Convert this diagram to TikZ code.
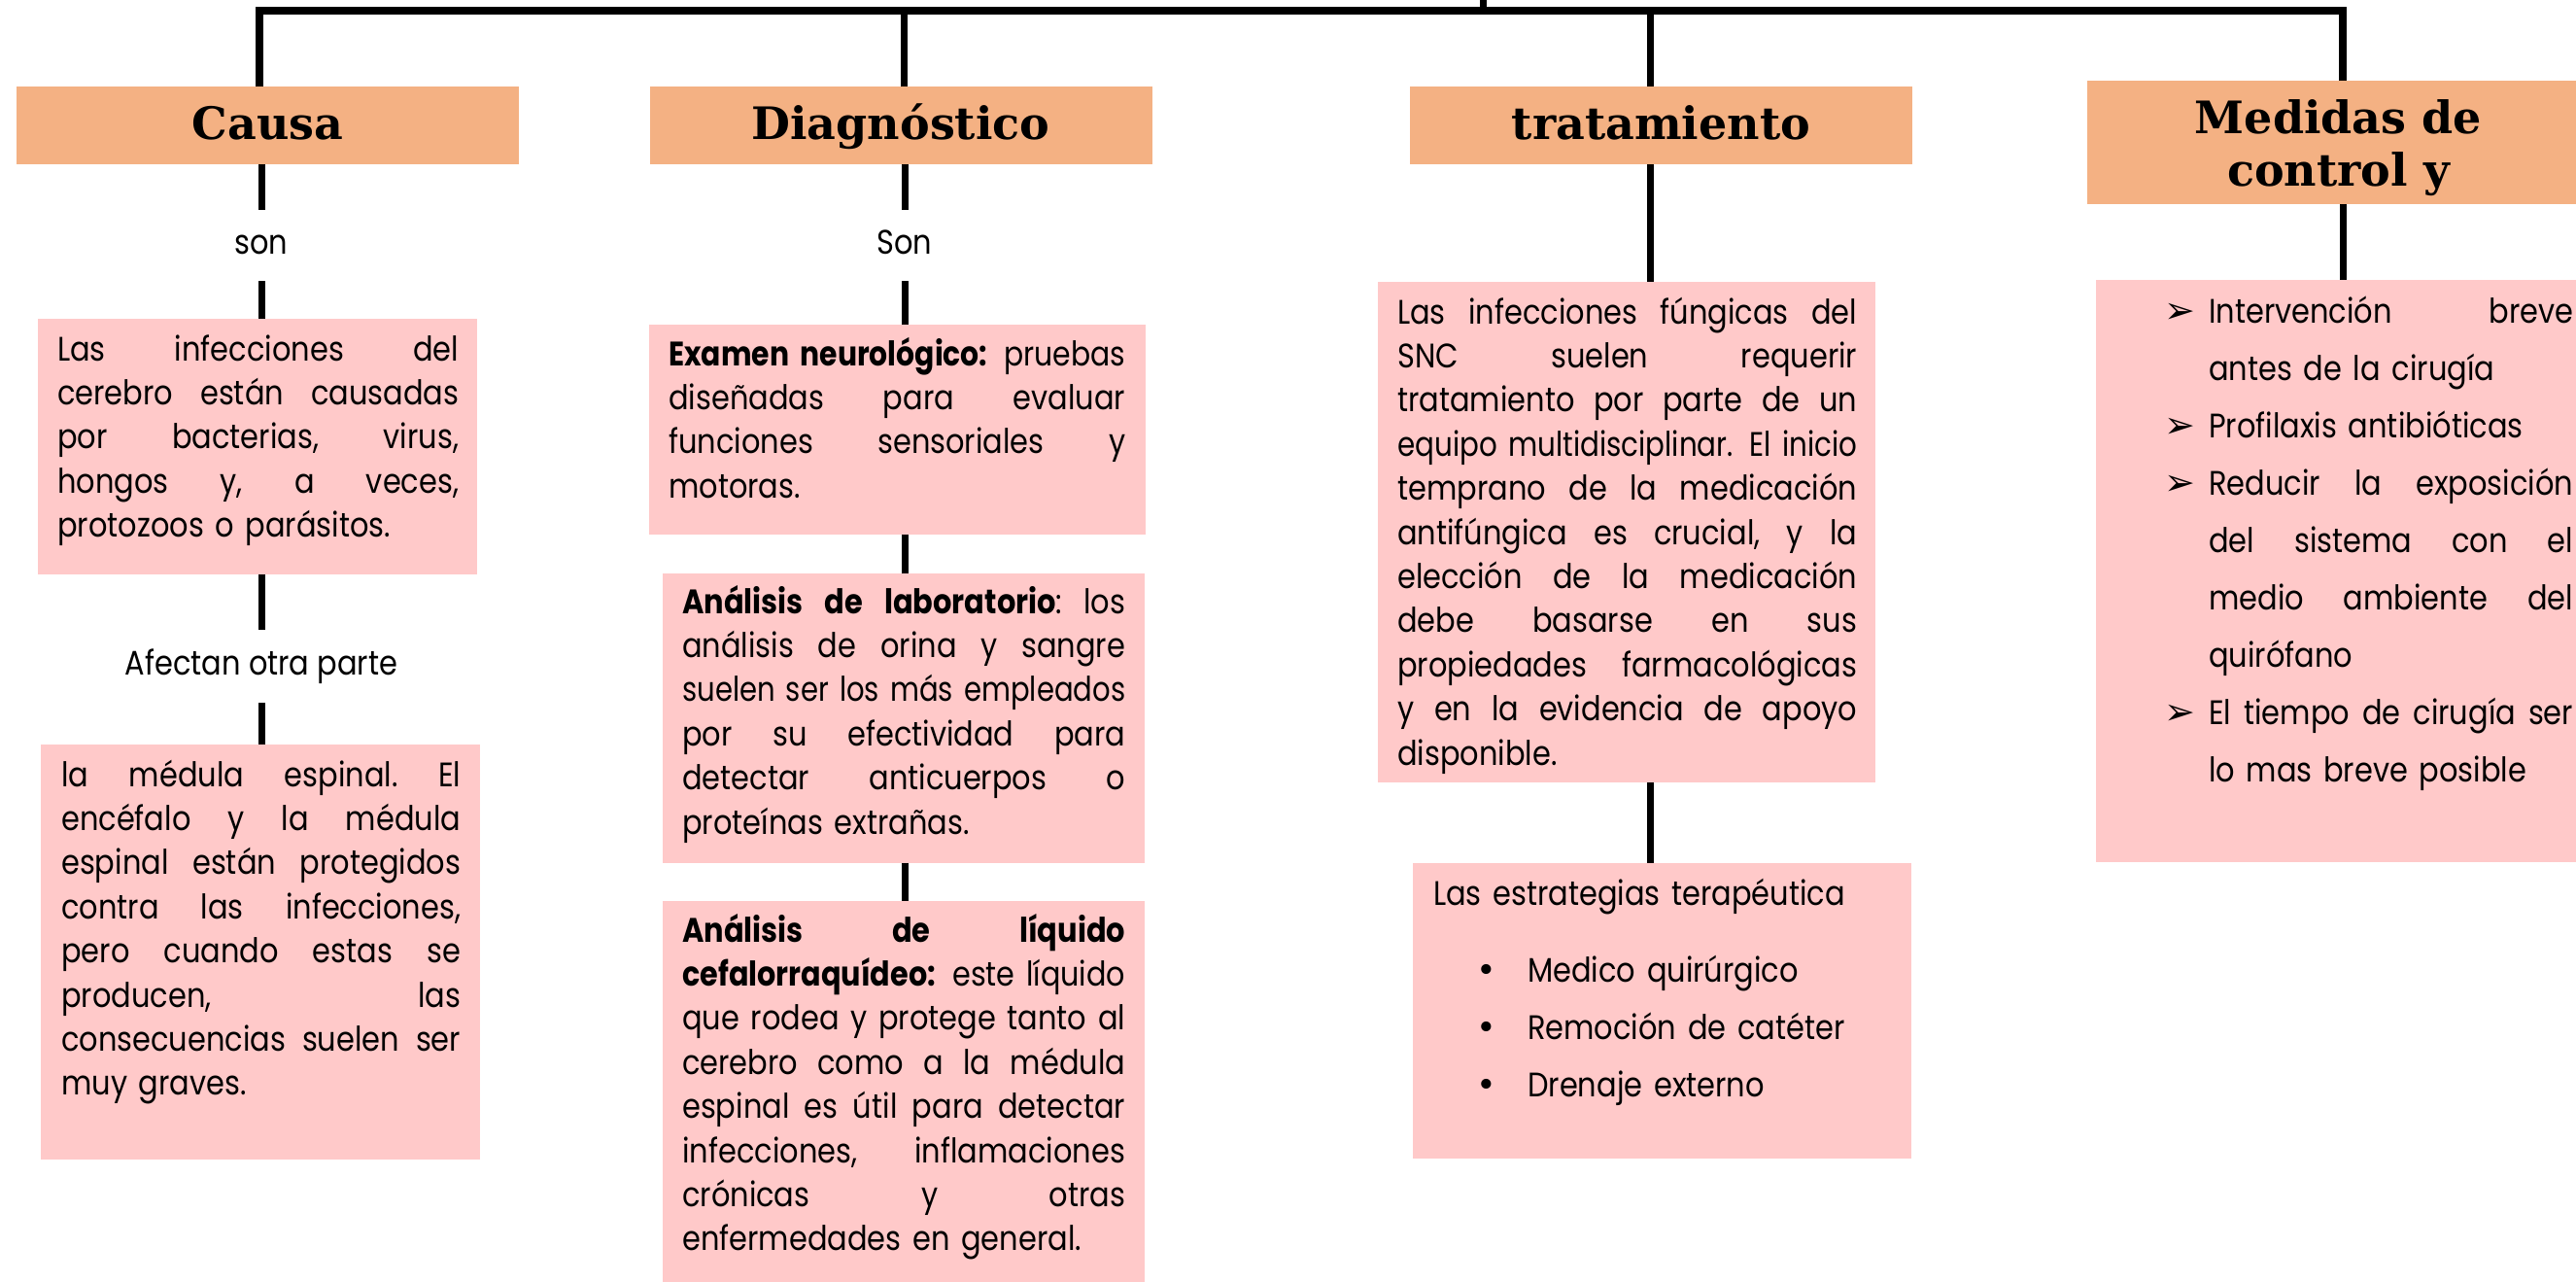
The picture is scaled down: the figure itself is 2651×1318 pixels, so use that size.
\documentclass[tikz,border=0pt]{standalone}
\usepackage{fontspec}
\usepackage{graphicx}
\setmainfont{Poppins}[FakeStretch=0.87]
\newfontfamily\headfont{DejaVu Serif}
\newfontfamily\dvs{DejaVu Sans}
\definecolor{heador}{HTML}{F4B183}
\definecolor{boxpink}{HTML}{FFC9C9}
\newsavebox\jlbox
\newcommand\jl[1]{\sbox\jlbox{#1}\ifdim\wd\jlbox>\linewidth\resizebox{\linewidth}{\height}{#1}\else\makebox[\linewidth][s]{\frenchspacing\spaceskip=0.25em plus 1fil\relax\xspaceskip=\spaceskip #1}\fi\par}
\newcommand\bodyfont{\fontsize{35}{45.4}\selectfont\parskip=0pt\hyphenpenalty=10000\exhyphenpenalty=10000}
\newcommand\listfont{\fontsize{35}{59}\selectfont\parskip=0pt\hyphenpenalty=10000\exhyphenpenalty=10000}
\newcommand\arr{\leavevmode\llap{\makebox[46pt][l]{\dvs\fontsize{38}{38}\selectfont ➢}}}
\newcommand\dotb{\leavevmode\hspace*{97pt}\llap{\makebox[84pt][c]{\dvs •}}}
\tikzset{
  headbox/.style={fill=heador, draw=none, minimum width=517pt, minimum height=80pt, inner sep=0pt,
    font=\headfont\bfseries\fontsize{46}{54}\selectfont, text height=34pt, text depth=6pt},
  pinkbox/.style={fill=boxpink, draw=none, inner sep=0pt, anchor=north west},
  txt/.style={anchor=base west, inner sep=0pt, font=\bodyfont},
  lbl/.style={inner sep=0pt, minimum width=10pt, font=\bodyfont, text height=17pt, text depth=0pt},
  conn/.style={line width=7pt, black},
  barline/.style={line width=8pt, black, line join=miter}
}
\begin{document}
\begin{tikzpicture}[x=1pt,y=-1pt]
\useasboundingbox (0,0) rectangle (2651,1318);
\clip (0,0) rectangle (2651,1318);

% headers
\node[headbox] (causa) at (275.5,129) {Causa};
\node[headbox] (diag) at (927,129) {Diagnóstico};
\node[headbox] (trat) at (1709.5,129) {tratamiento};
\node[headbox, minimum height=127pt, align=center, text height=95pt, text depth=6pt] (med) at (2406.5,146.5) {Medidas de\\control y};

% pink boxes
\node[pinkbox, minimum width=452pt, minimum height=263pt] (c1) at (39,328) {};
\node[pinkbox, minimum width=452pt, minimum height=427pt] (c2) at (42,766) {};
\node[pinkbox, minimum width=511pt, minimum height=216pt] (d1) at (668,334) {};
\node[pinkbox, minimum width=496pt, minimum height=298pt] (d2) at (682,590) {};
\node[pinkbox, minimum width=496pt, minimum height=403pt] (d3) at (682,927) {};
\node[pinkbox, minimum width=512pt, minimum height=515pt] (t1) at (1418,290) {};
\node[pinkbox, minimum width=513pt, minimum height=304pt] (t2) at (1454,888) {};
\node[pinkbox, minimum width=513pt, minimum height=599pt] (m) at (2157,288) {};

% labels
\node[lbl, minimum height=73pt] (son) at (269,252.5) {son};
\node[lbl, minimum height=73pt] (Son) at (931,252.5) {Son};
\node[lbl, minimum height=75pt] (afect) at (269,685.5) {Afectan otra parte};

% texts
\node[txt, text width=413pt] (c1t) at (59,371) {\jl{Las infecciones del}\jl{cerebro están causadas}\jl{por bacterias, virus,}\jl{hongos y, a veces,}protozoos o parásitos.};
\node[txt, text width=411pt] (c2t) at (63,809) {\jl{la médula espinal. El}\jl{encéfalo y la médula}\jl{espinal están protegidos}\jl{contra las infecciones,}\jl{pero cuando estas se}\jl{producen, las}\jl{consecuencias suelen ser}muy graves.};
\node[txt, text width=470pt] (d1t) at (688,376) {\jl{\textbf{Examen neurológico:} pruebas}\jl{diseñadas para evaluar}\jl{funciones sensoriales y}motoras.};
\node[txt, text width=456pt] (d2t) at (702,631) {\jl{\textbf{Análisis de laboratorio}: los}\jl{análisis de orina y sangre}\jl{suelen ser los más empleados}\jl{por su efectividad para}\jl{detectar anticuerpos o}proteínas extrañas.};
\node[txt, text width=456pt] (d3t) at (702,969) {\jl{\textbf{Análisis de líquido}}\jl{\textbf{cefalorraquídeo:} este líquido}\jl{que rodea y protege tanto al}\jl{cerebro como a la médula}\jl{espinal es útil para detectar}\jl{infecciones, inflamaciones}\jl{crónicas y otras}enfermedades en general.};
\node[txt, text width=473pt] (t1t) at (1438,333) {\jl{Las infecciones fúngicas del}\jl{SNC suelen requerir}\jl{tratamiento por parte de un}\jl{equipo multidisciplinar. El inicio}\jl{temprano de la medicación}\jl{antifúngica es crucial, y la}\jl{elección de la medicación}\jl{debe basarse en sus}\jl{propiedades farmacológicas}\jl{y en la evidencia de apoyo}disponible.};
\node[txt, text width=490pt, font=\listfont] (t2t) at (1475,931) {Las estrategias terapéutica\par\vskip20pt
\dotb Medico quirúrgico\par
\dotb Remoción de catéter\par
\dotb Drenaje externo};
\node[txt, text width=375pt, font=\listfont] (mt) at (2273,332) {\arr\jl{Intervención breve}antes de la cirugía\par
\arr Profilaxis antibióticas\par
\arr\jl{Reducir la exposición}\jl{del sistema con el}\jl{medio ambiente del}quirófano\par
\arr\jl{El tiempo de cirugía ser}lo mas breve posible};

% top bar
\coordinate (bC) at (267,11);
\coordinate (bD) at (930,11);
\coordinate (bT) at (1698,11);
\coordinate (bM) at (2411,11);
\coordinate (bTop) at (1526,11);
\coordinate (top) at (1526,0);
\draw[barline] (bC |- causa.north) -- (bC) -- (bM) -- (bM |- med.north);
\draw[conn] (bD) -- (bD |- diag.north);
\draw[conn] (bT) -- (bT |- trat.north);
\draw[conn] (top) -- (bTop);

% lower connectors
\draw[conn] (son.north |- causa.south) -- (son.north);
\draw[conn] (son.south) -- (son.south |- c1.north);
\draw[conn] (afect.north |- c1.south) -- (afect.north);
\draw[conn] (afect.south) -- (afect.south |- c2.north);
\draw[conn] (Son.north |- diag.south) -- (Son.north);
\draw[conn] (Son.south) -- (Son.south |- d1.north);
\draw[conn] (Son.south |- d1.south) -- (Son.south |- d2.north);
\draw[conn] (Son.south |- d2.south) -- (Son.south |- d3.north);
\draw[conn] (bT |- trat.south) -- (bT |- t1.north);
\draw[conn] (bT |- t1.south) -- (bT |- t2.north);
\draw[conn] (bM |- med.south) -- (bM |- m.north);
\end{tikzpicture}
\end{document}
